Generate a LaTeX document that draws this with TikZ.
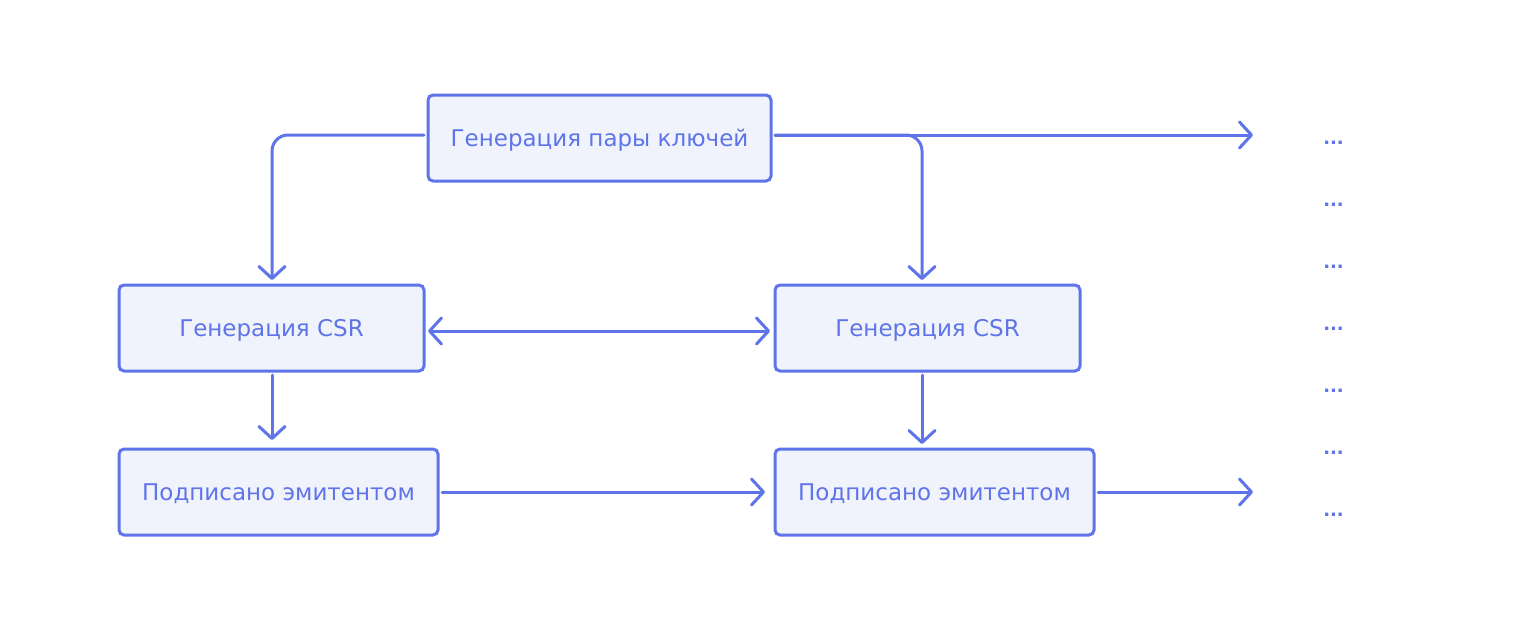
\documentclass[tikz,border=0pt]{standalone}
\usepackage{fontspec}
\setmainfont{DejaVu Sans}
\usetikzlibrary{arrows.meta}
\definecolor{stroke}{HTML}{5E74E8}
\definecolor{boxfill}{HTML}{F0F3FC}
\newcommand\lowtxt[1]{\raisebox{-2pt}[\height][\depth]{#1}}
\tikzset{
  box/.style={draw=stroke, fill=boxfill, line width=3pt, rounded corners=5pt, text=stroke, font=\fontsize{23}{26}\selectfont, inner sep=0pt, anchor=center},
  tip/.tip={Straight Barb[length=12pt,width=26pt,line width=3pt,round]},
  conn/.style={draw=stroke, line width=3pt, line cap=round, rounded corners=16pt, -tip},
  dotlbl/.style={text=stroke, font=\fontsize{18}{22}\selectfont\bfseries, inner sep=0pt, anchor=base}
}
\begin{document}
\begin{tikzpicture}[x=1pt,y=-1pt]
\useasboundingbox (0,0) rectangle (1518,630);
\node[box, minimum width=343pt, minimum height=86pt] (top) at (599.5,138) {\lowtxt{Генерация пары ключей}};
\node[box, minimum width=305pt, minimum height=86pt] (csrL) at (271.5,328) {\lowtxt{Генерация CSR}};
\node[box, minimum width=305pt, minimum height=86pt] (csrR) at (927.5,328) {\lowtxt{Генерация CSR}};
\node[box, minimum width=319pt, minimum height=86pt] (sigL) at (278.5,492) {\lowtxt{Подписано эмитентом}};
\node[box, minimum width=319pt, minimum height=86pt] (sigR) at (934.5,492) {\lowtxt{Подписано эмитентом}};
\foreach \i/\y in {1/144,2/206,3/268,4/330,5/392,6/454,7/516}{
  \node[dotlbl] (d\i) at (1333.5,\y) {...};
}
\coordinate (e1) at (1253,135);
\coordinate (e2) at (1253,492);
\draw[conn] ([xshift=-2.5pt,yshift=3pt]top.west) -| ([xshift=0.5pt,yshift=3.5pt]csrL.north);
\draw[conn] ([xshift=2.5pt,yshift=3pt]top.east) -| ([xshift=-5.5pt,yshift=3.5pt]csrR.north);
\draw[conn] ([xshift=2.5pt,yshift=3pt]top.east) -- (e1);
\draw[conn, tip-tip] ([xshift=2.5pt,yshift=-3pt]csrL.east) -- ([xshift=-3.5pt,yshift=-3pt]csrR.west);
\draw[conn] ([xshift=0.5pt,yshift=-2.5pt]csrL.south) -- ([xshift=-6.5pt,yshift=7.5pt]sigL.north);
\draw[conn] ([xshift=-5.5pt,yshift=-2.5pt]csrR.south) -- ([xshift=-12.5pt,yshift=3.5pt]sigR.north);
\draw[conn] ([xshift=2.5pt]sigL.east) -- ([xshift=-8.5pt]sigR.west);
\draw[conn] ([xshift=2.5pt]sigR.east) -- (e2);
\end{tikzpicture}
\end{document}
